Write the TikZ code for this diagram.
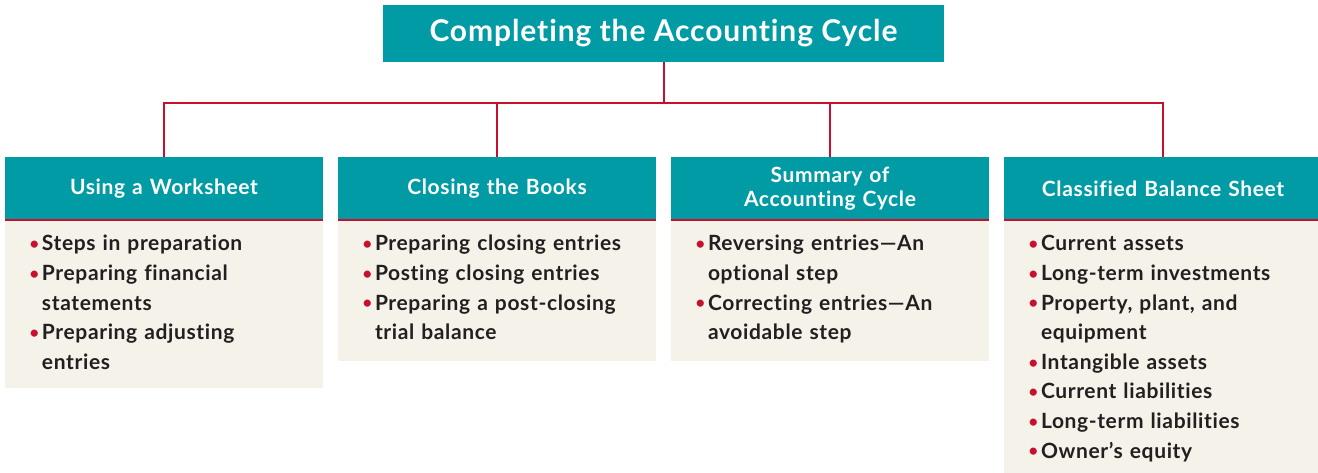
\documentclass[tikz,border=0pt]{standalone}
\usepackage{fontspec}
\setmainfont{Lato}[LetterSpace=3, Ligatures=NoCommon]
\usetikzlibrary{positioning}
\definecolor{headteal}{RGB}{0,155,165}
\definecolor{linkred}{RGB}{200,16,46}
\definecolor{bodybg}{RGB}{245,242,234}
\definecolor{bodytext}{RGB}{35,31,32}
\newcommand{\bitem}[1]{\par\noindent\makebox[13pt][l]{\hspace*{0.5pt}\raisebox{1.2pt}{\scalebox{0.78}{\textcolor{linkred}{\textbullet}}}}\strut#1}
\newcommand{\bcont}[1]{\par\noindent\hspace*{13pt}\strut#1}

\begin{document}
\begin{tikzpicture}[x=1pt, y=1pt,
  title/.style={fill=headteal, text=white, minimum width=561pt, minimum height=57pt,
    font=\bfseries\fontsize{30}{34}\selectfont},
  head/.style={fill=headteal, text=white, text width=318pt, inner xsep=0pt, minimum height=63pt,
    align=center, font=\bfseries\fontsize{21}{24}\selectfont},
  body/.style={fill=bodybg, text=bodytext, text width=270pt, inner xsep=24pt, inner ysep=1pt,
    align=left, font=\bfseries\fontsize{21}{29.6}\selectfont},
  link/.style={draw=linkred, line width=2pt}]
\useasboundingbox (0,0) rectangle (1318,473);
\node[title] (top) at (663.5,439.5) {Completing the Accounting Cycle};
\coordinate (bar) at (663.5,370);

\node[head] (h1) at (164,284.5) {Using a Worksheet};
\node[head] (h2) at (497,284.5) {Closing the Books};
\node[head] (h3) at (830,284.5) {Summary of\\Accounting Cycle};
\node[head] (h4) at (1163,284.5) {Classified Balance Sheet};

\node[body, below=0pt of h1] (b1) {\bitem{Steps in preparation}\bitem{Preparing financial}\bcont{statements}\bitem{Preparing adjusting}\bcont{entries}\par\vspace*{9pt}};
\node[body, below=0pt of h2] (b2) {\bitem{Preparing closing entries}\bitem{Posting closing entries}\bitem{Preparing a post-closing}\bcont{trial balance}\par\vspace*{11pt}};
\node[body, below=0pt of h3] (b3) {\bitem{Reversing entries---An}\bcont{optional step}\bitem{Correcting entries---An}\bcont{avoidable step}\par\vspace*{11pt}};
\node[body, below=0pt of h4] (b4) {\bitem{Current assets}\bitem{Long-term investments}\bitem{Property, plant, and}\bcont{equipment}\bitem{Intangible assets}\bitem{Current liabilities}\bitem{Long-term liabilities}\bitem{Owner’s equity}\par\vspace*{20pt}};

% connectors
\draw[link] (top.south) -- (bar);
\foreach \h in {h1,h2,h3,h4} {
  \draw[link] (bar) -| (\h.north);
  \draw[linkred, line width=2.5pt] (\h.south west) -- (\h.south east);
}
\end{tikzpicture}
\end{document}
